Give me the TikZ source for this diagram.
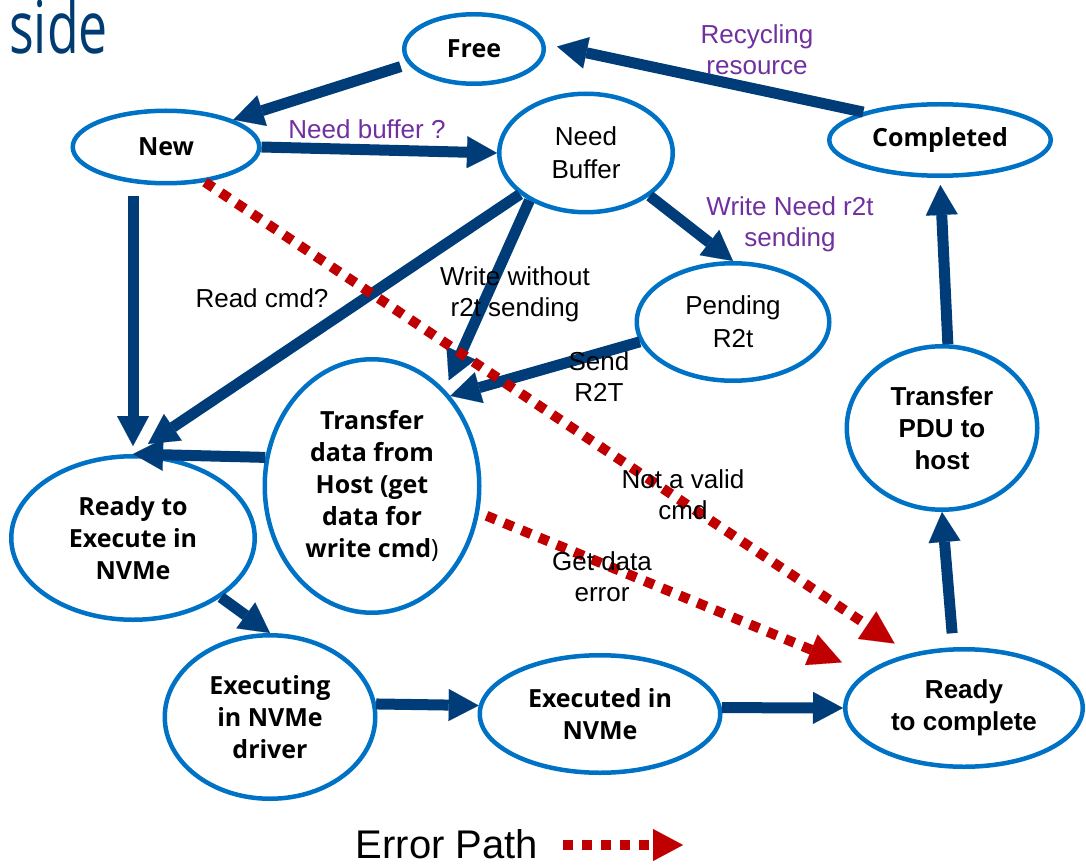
\documentclass[tikz,border=0pt]{standalone}
\usepackage{fontspec}
\setmainfont{Liberation Sans}
\newfontfamily\clearfont{Open Sans}
\newfontfamily\titlefont[FakeStretch=0.71]{Open Sans}
\usetikzlibrary{arrows.meta,shapes.geometric}
\definecolor{ellblue}{RGB}{0,114,198}
\definecolor{navy}{RGB}{0,61,120}
\definecolor{lblpurple}{RGB}{112,48,160}
\definecolor{errred}{RGB}{192,0,0}
\definecolor{titleblue}{RGB}{0,60,113}
\begin{document}
\begin{tikzpicture}[x=1pt,y=-1pt,
 st/.style={ellipse, draw=ellblue, line width=4.5pt, inner sep=0pt, align=center, font=\fontsize{26}{33}\selectfont},
 stb/.style={st, font=\clearfont\bfseries\fontsize{25}{32}\selectfont},
 sta/.style={st, font=\bfseries\fontsize{26}{32}\selectfont},
 arr/.style={draw=navy, line width=11pt, -{Triangle[length=30pt,width=32pt,line width=0.1pt]}},
 err/.style={draw=errred, line width=10pt, dash pattern=on 10pt off 9pt, -{Triangle[length=33pt,width=33pt,line width=0.1pt]}},
 lbl/.style={inner sep=0pt, align=center, font=\fontsize{26}{31}\selectfont},
 plbl/.style={lbl, text=lblpurple}]
\path[use as bounding box] (0,0) rectangle (1086,866);

% title fragment
\node[font=\titlefont\fontsize{73}{78}\selectfont, text=titleblue, anchor=base west, inner sep=0pt] (title) at (9,54) {side};

% states
\node[stb, minimum width=139.5pt, minimum height=69.5pt] (free) at (474,49) {Free};
\node[stb, minimum width=186.5pt, minimum height=72.5pt] (new) at (166,147) {New};
\node[st, minimum width=173.5pt, minimum height=118.5pt] (nb) at (586,153) {Need\\Buffer};
\node[stb, minimum width=221.5pt, minimum height=71.5pt] (comp) at (940,140) {Completed};
\node[st, minimum width=192.5pt, minimum height=117.5pt] (pend) at (733,322) {Pending\\R2t};
\node[stb, minimum width=214.5pt, minimum height=253.5pt] (xfer) at (372,486) {Transfer\\data from\\Host (get\\data for\\write cmd{\mdseries)}};
\node[stb, minimum width=243.5pt, minimum height=163.5pt] (rte) at (133,538) {Ready to\\Execute in\\NVMe};
\node[sta, minimum width=190.5pt, minimum height=163.5pt] (pdu) at (942,428) {Transfer\\PDU to\\host};
\node[stb, minimum width=210.5pt, minimum height=163.5pt] (exing) at (270,717) {Executing\\in NVMe\\driver};
\node[stb, minimum width=240.5pt, minimum height=117.5pt] (exed) at (600,714) {Executed in\\NVMe};
\node[sta, minimum width=237.5pt, minimum height=117.5pt] (rtc) at (964,708) {Ready\\to complete};

% normal transitions
\draw[arr, shorten <=8pt] (free.193) -- (new.22);
\draw[arr] (new.east) -- (nb.west);
\draw[arr, shorten <=11pt, shorten >=8pt] (new.south -| rte.north) -- (rte.north);
\draw[arr, shorten >=18pt] (nb.212) -- (rte.north);
\draw[arr, shorten >=10pt] (nb.220) -- (xfer.53);
\draw[arr] (nb.326) -- (pend.north);
\draw[arr] (pend.192) -- (xfer.49);
\draw[arr] (xfer.165) -- (rte.north);
\draw[arr] (rte.326) -- (exing.north);
\draw[arr] (exing.7) -- (exed.176);
\draw[arr] (exed.3) -- (rtc.west);
\draw[arr, shorten <=14pt] (rtc.100) -- (pdu.south);
\draw[arr, shorten >=7pt] (pdu.86) -- (comp.south);
\draw[arr, shorten >=12pt] (comp.160) -- (free.4);

% error transitions
\draw[err, shorten >=18pt] (new.318) -- (rtc.135);
\draw[err, shorten <=8pt, shorten >=26pt] (xfer.346.6) -- (rtc.160);

% labels
\node[plbl] (l1) at (367,129) {Need buffer ?};
\node[plbl] (l2) at (757,50) {Recycling\\resource};
\node[plbl] (l3) at (790,224) {Write Need r2t\\sending};
\node[lbl] (l4) at (262,298) {Read cmd?};
\node[lbl] (l5) at (515,294) {Write without\\r2t sending};
\node[lbl] (l6) at (599,377) {Send\\R2T};
\node[lbl] (l7) at (683,495) {Not a valid\\cmd};
\node[lbl] (l8) at (602,577) {Get data\\error};

% legend
\node[font=\fontsize{40}{48}\selectfont, anchor=base, inner sep=0pt] (errtxt) at (447,858) {Error Path};
\coordinate (lg1) at (563,845);
\coordinate (lg2) at (683,845);
\draw[err, -{Triangle[length=30pt,width=32pt,line width=0.1pt]}] (lg1) -- (lg2);
\end{tikzpicture}
\end{document}
